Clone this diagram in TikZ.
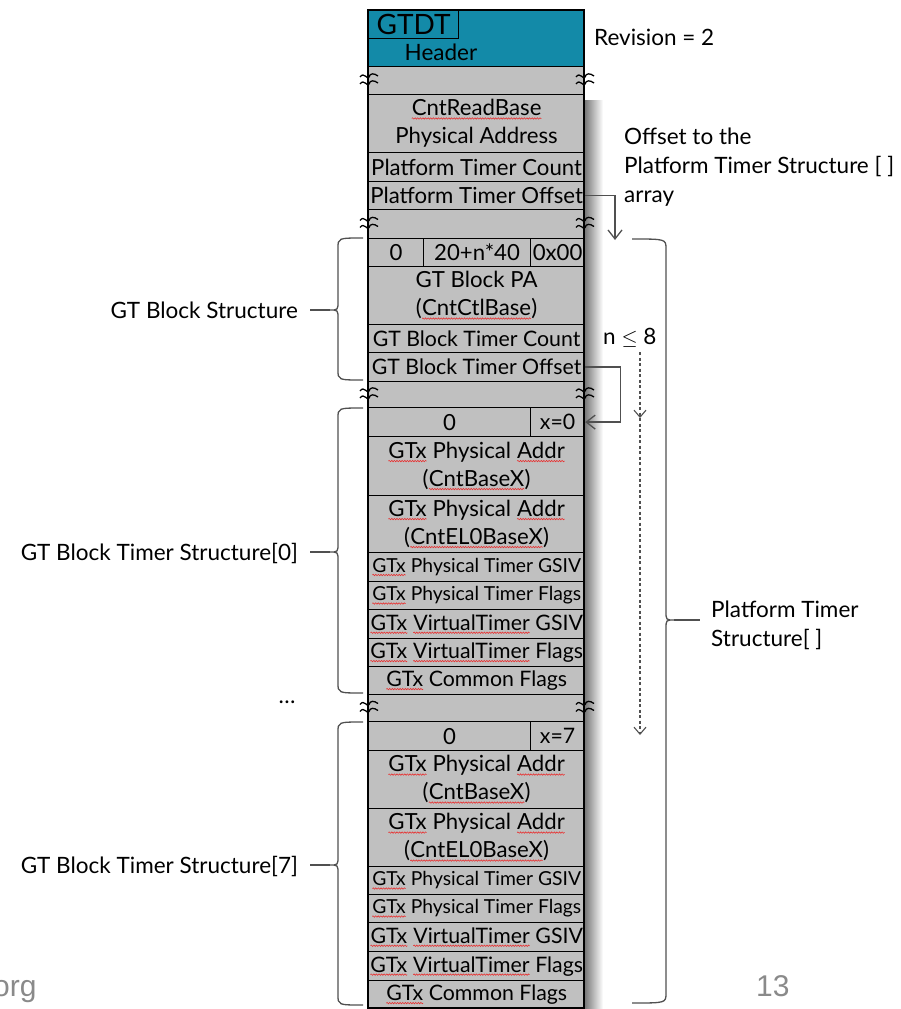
\documentclass[tikz,border=0pt]{standalone}
\usepackage{fontspec}
\setmainfont{Lato}
\newfontfamily\arialf{Liberation Sans}
\usetikzlibrary{arrows.meta,decorations.pathmorphing}
\definecolor{cellgray}{HTML}{C0C0C0}
\definecolor{hdrteal}{HTML}{138AA8}
\definecolor{linegray}{HTML}{505050}
\definecolor{footgray}{HTML}{8A8A8A}
\definecolor{sqred}{HTML}{E83030}
\newcommand\sqg[1]{\tikz[baseline=(w.base),x=1pt,y=1pt]{\node[draw=none,fill=none,inner sep=0pt,outer sep=0pt,minimum width=0pt,minimum height=0pt,anchor=base,align=left] (w) at (0,0) {#1};\draw[draw=sqred,line width=0.6pt,decorate,decoration={snake,amplitude=0.7pt,segment length=2.6pt}] ([yshift=-2.6pt]w.base west) -- ([yshift=-2.6pt]w.base east);}}
\begin{document}
\begin{tikzpicture}[x=1pt,y=-1pt,
  cell/.style={draw=black,line width=1.2pt,fill=cellgray,anchor=north west,inner sep=0pt,minimum width=216pt,align=center,font=\fontsize{22.2}{28}\selectfont},
  sm/.style={font=\fontsize{19.3}{22}\selectfont},
  md/.style={font=\fontsize{21.3}{24}\selectfont},
  lbl/.style={inner sep=0pt,font=\fontsize{22.5}{29}\selectfont},
  conn/.style={draw=linegray,line width=1.3pt},
  tip/.style={-{Straight Barb[length=9pt,width=14pt,line width=1.3pt]}},
  brace/.style={draw=linegray,line width=1.3pt},
  brk/.pic={\draw[line width=1.3pt,black] (-9,-3) .. controls (-5,-9) and (-1,1) .. (0,-3) .. controls (1,-7) and (5,-7) .. (9,-4);
            \draw[line width=1.3pt,black] (-9,4) .. controls (-5,-2) and (-1,8) .. (0,4) .. controls (1,0) and (5,0) .. (9,3);}
]
\useasboundingbox (0,0) rectangle (900,1009);
% shadow
\shade[left color=black!55,right color=white] (584,100) rectangle (603,1008);
% header
\node[cell,fill=hdrteal,minimum height=56pt] (hdr) at (368,10) {};
\node[draw=black,line width=1.2pt,anchor=north west,minimum width=90pt,minimum height=28pt,inner sep=0pt,font=\fontsize{28}{30}\selectfont] (gtdt) at (368,10) {GTDT};
\node[font=\fontsize{22.5}{24}\selectfont,inner sep=0pt] (hdrt) at (441,52) {Header};
% rows
\node[cell,minimum height=28pt] (g1) at (368,66) {};
\node[cell,minimum height=58pt] (crb) at (368,94) {\sqg{CntReadBase}\\Physical Address};
\node[cell,minimum height=29pt] (ptc) at (368,152) {Platform Timer Count};
\node[cell,minimum height=28pt] (pto) at (368,181) {Platform Timer Offset};
\node[cell,minimum height=29pt] (g2) at (368,209) {};
\node[cell,minimum height=28pt,minimum width=55pt] (gb0a) at (368,238) {0};
\node[cell,minimum height=28pt,minimum width=107pt] (gb0b) at (423,238) {20+n*40};
\node[cell,minimum height=28pt,minimum width=54pt] (gb0c) at (530,238) {0x00};
\node[cell,minimum height=58pt] (gbpa) at (368,266) {GT Block PA\\(\sqg{CntCtlBase})};
\node[cell,md,minimum height=28pt] (gbtc) at (368,324) {GT Block Timer Count};
\node[cell,md,minimum height=29pt] (gbto) at (368,352) {GT Block Timer Offset};
\node[cell,minimum height=26pt] (g3) at (368,381) {};
% timer 0
\node[cell,minimum height=29pt,minimum width=162pt] (t0a) at (368,407) {0};
\node[cell,md,minimum height=29pt,minimum width=54pt] (t0ax) at (530,407) {x=0};
\node[cell,minimum height=59pt] (t0b) at (368,436) {\sqg{GTx} Physical \sqg{Addr}\\(\sqg{CntBaseX})};
\node[cell,minimum height=57pt] (t0c) at (368,495) {\sqg{GTx} Physical \sqg{Addr}\\(\sqg{CntEL0BaseX})};
\node[cell,sm,minimum height=29pt] (t0d) at (368,552) {\sqg{GTx} Physical Timer GSIV};
\node[cell,sm,minimum height=28pt] (t0e) at (368,581) {\sqg{GTx} Physical Timer Flags};
\node[cell,md,minimum height=29pt] (t0f) at (368,609) {\sqg{GTx} \sqg{VirtualTimer} GSIV};
\node[cell,md,minimum height=28pt] (t0g) at (368,638) {\sqg{GTx} \sqg{VirtualTimer} Flags};
\node[cell,md,minimum height=28pt] (t0h) at (368,666) {\sqg{GTx} Common Flags};
\node[cell,minimum height=27pt] (g4) at (368,694) {};
% timer 7
\node[cell,minimum height=29pt,minimum width=162pt] (t7a) at (368,721) {0};
\node[cell,md,minimum height=29pt,minimum width=54pt] (t7ax) at (530,721) {x=7};
\node[cell,minimum height=58pt] (t7b) at (368,750) {\sqg{GTx} Physical \sqg{Addr}\\(\sqg{CntBaseX})};
\node[cell,minimum height=58pt] (t7c) at (368,808) {\sqg{GTx} Physical \sqg{Addr}\\(\sqg{CntEL0BaseX})};
\node[cell,sm,minimum height=28pt] (t7d) at (368,866) {\sqg{GTx} Physical Timer GSIV};
\node[cell,sm,minimum height=28pt] (t7e) at (368,894) {\sqg{GTx} Physical Timer Flags};
\node[cell,md,minimum height=29pt] (t7f) at (368,922) {\sqg{GTx} \sqg{VirtualTimer} GSIV};
\node[cell,md,minimum height=29pt] (t7g) at (368,951) {\sqg{GTx} \sqg{VirtualTimer} Flags};
\node[cell,md,minimum height=28pt] (t7h) at (368,980) {\sqg{GTx} Common Flags};
% outer border
\draw[line width=2.4pt] (368,10) rectangle (584,1008);
% break marks
\foreach \yy in {80,223.5,394,707.5}{
  \pic at (369,\yy) {brk};
  \pic at (585,\yy) {brk};
}
% right texts
\node[lbl,anchor=west] (rev) at (594,37) {Revision = 2};
\node[lbl,anchor=west,align=left] (off) at (624,167) {Offset to the\\Platform Timer Structure [ ]\\array};
\node[lbl,anchor=west] (n8) at (603,338) {n $\leq$ 8};
% arrows
\coordinate (a1) at (615,240);
\draw[conn,tip] (pto.east) -| (a1);
\draw[conn,tip] (gbto.east) -- ++(35,0) |- (t0ax.east);
\coordinate (d1) at (640,352);
\coordinate (d2) at (640,418);
\coordinate (d3) at (640,735);
\draw[conn,line width=1.1pt,dash pattern=on 3pt off 2.5pt,-{Straight Barb[length=7pt,width=12pt,line width=1.1pt]}] (d1) -- (d2);
\draw[conn,line width=1.1pt,dash pattern=on 3pt off 2.5pt,-{Straight Barb[length=7pt,width=12pt,line width=1.1pt]}] (d2) -- (d3);
% left braces
\foreach \t/\m/\b in {238/310/380, 408/552/693, 722/865/1005}{
  \draw[brace] (363,\t) .. controls (338,\t) .. (338,\t+10) -- (338,\m-9) .. controls (338,\m) .. (330,\m) .. controls (338,\m) .. (338,\m+9) -- (338,\b-10) .. controls (338,\b) .. (363,\b);
  \draw[brace] (330,\m) -- (310,\m);
}
\node[lbl,anchor=east] (lgb) at (298,310) {GT Block Structure};
\node[lbl] (dots) at (287,702) {\dots};
\node[lbl,anchor=east] (lt0) at (298,553) {GT Block Timer Structure[0]};
\node[lbl,anchor=east] (lt7) at (298,866) {GT Block Timer Structure[7]};
% right brace
\draw[brace] (632,239) .. controls (666,239) .. (666,249) -- (666,611) .. controls (666,620) .. (674,620) .. controls (666,620) .. (666,629) -- (666,993) .. controls (666,1003) .. (632,1003);
\draw[brace] (674,620) -- (700,620);
\node[lbl,anchor=west,align=left] (lpt) at (711,625) {Platform Timer\\Structure[ ]};
% footer
\node[anchor=base west,inner sep=0pt,text=footgray,font=\arialf\fontsize{30}{32}\selectfont] (org) at (-7,996) {org};
\node[anchor=base west,inner sep=0pt,text=footgray,font=\arialf\fontsize{30}{32}\selectfont] (pg) at (756,996) {13};
\end{tikzpicture}
\end{document}
